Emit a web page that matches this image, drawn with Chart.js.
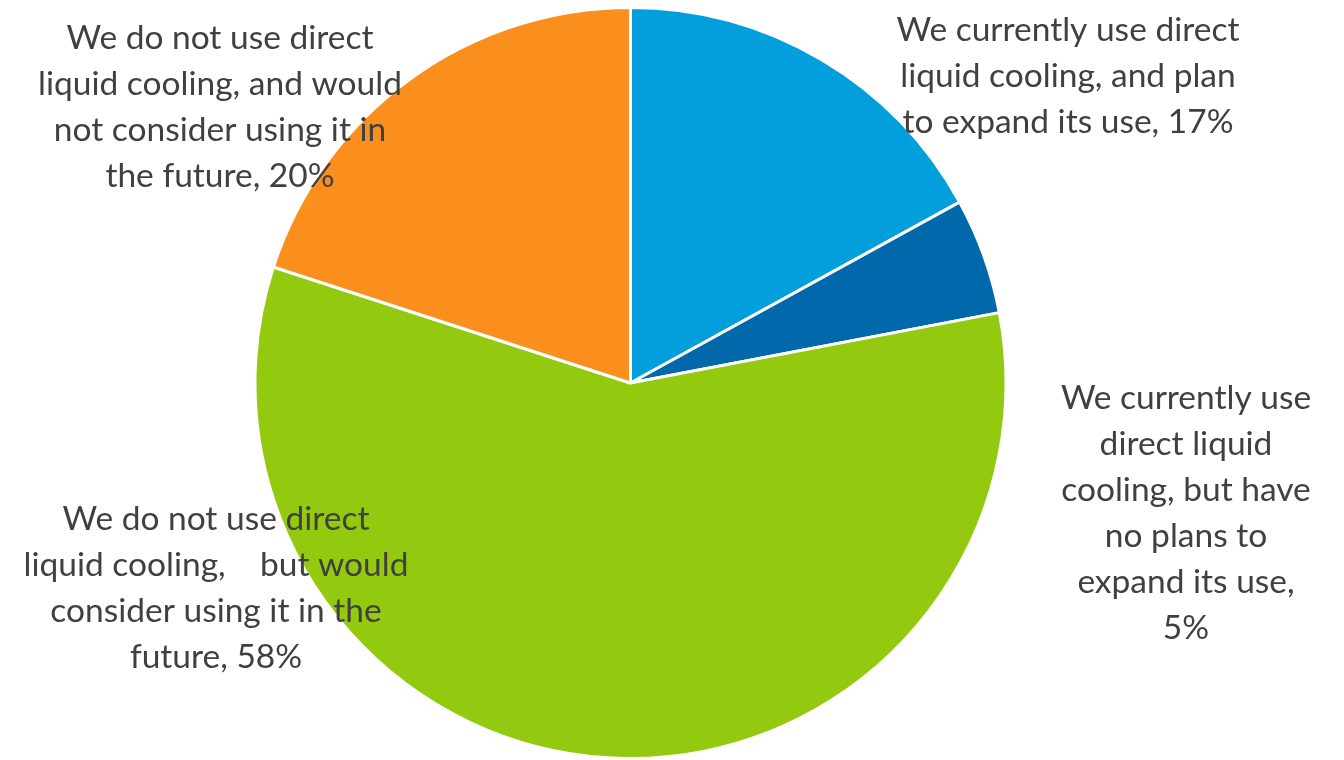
<!DOCTYPE html>
<html>
<head>
<meta charset="utf-8">
<script src="https://cdn.jsdelivr.net/npm/chart.js@4"></script>
<style>
  html, body { margin: 0; padding: 0; background: #fff; }
  #wrap { width: 1344px; height: 760px; position: relative; }
</style>
</head>
<body>
<div id="wrap"><canvas id="pieChart"></canvas></div>
<script>
// survey answers, clockwise from 12 o'clock
const categories = [
  "We currently use direct liquid cooling, and plan to expand its use",
  "We currently use direct liquid cooling, but have no plans to expand its use",
  "We do not use direct liquid cooling, but would consider using it in the future",
  "We do not use direct liquid cooling, and would not consider using it in the future"
];
const shares = [17, 5, 58, 20];
const sliceColors = ["#039fdc", "#0068ab", "#93c90f", "#fa8f1e"];

// wrapped label text, as shown next to each slice
const labelLines = [
  ["We currently use direct", "liquid cooling, and plan", "to expand its use, 17%"],
  ["We currently use", "direct liquid", "cooling, but have", "no plans to", "expand its use,", "5%"],
  ["We do not use direct", "liquid cooling,    but would", "consider using it in the", "future, 58%"],
  ["We do not use direct", "liquid cooling, and would", "not consider using it in", "the future, 20%"]
];
// label anchors (centre x, first line y)
const labelAnchors = [
  [1068, 30],
  [1186, 398],
  [216, 519],
  [220, 38]
];

const labelPlugin = {
  id: "sliceLabels",
  afterDraw(chart) {
    const ctx = chart.ctx;
    ctx.save();
    ctx.fillStyle = "#404040";
    ctx.font = "33.5px Lato, 'Open Sans', sans-serif";
    ctx.textAlign = "center";
    ctx.textBaseline = "middle";
    labelLines.forEach((lines, i) => {
      const [x, y] = labelAnchors[i];
      lines.forEach((line, j) => {
        ctx.fillText(line, x, y + j * 46);
      });
    });
    ctx.restore();
  }
};

new Chart(document.getElementById("pieChart"), {
  type: "pie",
  data: {
    labels: categories,
    datasets: [{
      data: shares,
      backgroundColor: sliceColors,
      borderColor: "#ffffff",
      borderWidth: 3
    }]
  },
  options: {
    responsive: true,
    maintainAspectRatio: false,
    animation: false,
    layout: { padding: { top: 6, bottom: -5, left: 0, right: 83 } },
    plugins: {
      legend: { display: false },
      tooltip: { enabled: false }
    }
  },
  plugins: [labelPlugin]
});
</script>
</body>
</html>
